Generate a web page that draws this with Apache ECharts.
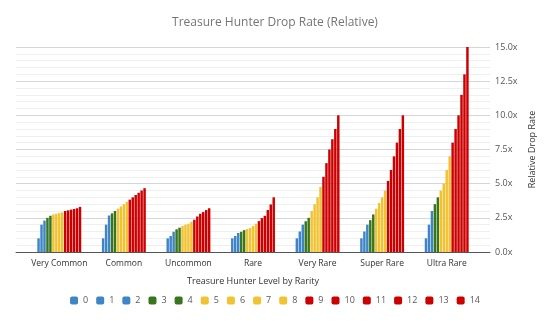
<!DOCTYPE html>
<html><head><meta charset="utf-8">
<script src="https://cdn.jsdelivr.net/npm/echarts@6/dist/echarts.min.js"></script>
<style>html,body{margin:0;padding:0;background:#fff}#c{width:550px;height:321px}</style>
</head><body><div id="c"></div>
<script>
const categories = ['Very Common','Common','Uncommon','Rare','Very Rare','Super Rare','Ultra Rare'];
const levels = ['0','1','2','3','4','5','6','7','8','9','10','11','12','13','14'];
const levelColors = ['#3d85c6','#3d85c6','#3d85c6','#38761d','#38761d','#f1c232','#f1c232','#f1c232','#f1c232','#cc0000','#cc0000','#cc0000','#cc0000','#cc0000','#cc0000'];
// values per rarity, indexed by level 0..14
const veryCommon = [1, 2, 2.3, 2.5, 2.65, 2.75, 2.8, 2.85, 2.9, 3.0, 3.05, 3.1, 3.15, 3.2, 3.3];
const common     = [1, 2, 2.67, 2.83, 3.0, 3.17, 3.33, 3.5, 3.67, 3.83, 4.0, 4.17, 4.33, 4.5, 4.67];
const uncommon   = [1, 1.17, 1.48, 1.66, 1.78, 1.9, 2.0, 2.07, 2.2, 2.36, 2.6, 2.8, 2.92, 3.07, 3.2];
const rare       = [1, 1.17, 1.39, 1.48, 1.6, 1.68, 1.75, 1.9, 2.07, 2.26, 2.48, 2.65, 3.07, 3.48, 4.0];
const veryRare   = [1, 1.5, 2, 2.25, 2.5, 3, 3.5, 4, 4.75, 5.5, 6.5, 7.5, 8.25, 9, 10];
const superRare  = [1, 1.5, 2, 2.33, 2.75, 3.17, 3.58, 4, 4.5, 5.2, 6, 7, 8, 9, 10];
const ultraRare  = [1, 2, 3, 3.5, 4, 4.5, 5, 6, 7, 8, 9, 10, 11.5, 13, 15];
const yMin = 0, yMax = 15, yInterval = 2.5;

const rarityRows = [veryCommon, common, uncommon, rare, veryRare, superRare, ultraRare];
const font = 'Open Sans, Arial, sans-serif';

const series = levels.map((lv, i) => ({
  name: lv, type: 'bar', xAxisIndex: 1, yAxisIndex: 1,
  data: rarityRows.map(r => r[i]),
  itemStyle: {color: levelColors[i]},
  barGap: '20%', barCategoryGap: '32%'
}));

const chart = echarts.init(document.getElementById('c'), null, {renderer: 'canvas'});
chart.setOption({
  animation: false,
  title: {text: 'Treasure Hunter Drop Rate (Relative)', left: 'center', top: 12,
    textStyle: {fontFamily: font, fontSize: 12, fontWeight: 'normal', color: '#757575'}},
  legend: {bottom: 11, left: 'center', icon: 'roundRect', itemWidth: 8, itemHeight: 8, itemGap: 8,
    textStyle: {fontFamily: font, fontSize: 9, color: '#595959'}, data: levels},
  grid: [
    {left: 16, right: 60, top: 47, bottom: 69},
    {left: 27, right: 71, top: 47, bottom: 69}
  ],
  xAxis: [
    {type: 'value', gridIndex: 0, min: 0, max: 1, axisLabel: {show: false}, axisTick: {show: false},
     splitLine: {show: false}, axisLine: {show: true, onZero: false, lineStyle: {color: '#555', width: 1}}},
    {type: 'category', gridIndex: 1, data: categories, axisLine: {show: false}, axisTick: {show: false},
     axisLabel: {fontFamily: font, fontSize: 8.5, color: '#333', margin: 7, interval: 0},
     name: 'Treasure Hunter Level by Rarity', nameLocation: 'middle', nameGap: 25,
     nameTextStyle: {fontFamily: font, fontSize: 9, color: '#333'}}
  ],
  yAxis: [
    {type: 'value', gridIndex: 0, position: 'right', min: yMin, max: yMax, interval: yInterval,
     axisLine: {show: false}, axisTick: {show: false},
     axisLabel: {fontFamily: font, fontSize: 9, color: '#555', margin: 5, formatter: v => v.toFixed(1) + 'x'},
     splitLine: {lineStyle: {color: '#d6d6d6'}},
     minorTick: {show: false, splitNumber: 5},
     minorSplitLine: {show: true, lineStyle: {color: '#efefef'}},
     name: 'Relative Drop Rate', nameLocation: 'middle', nameRotate: 90, nameGap: 35,
     nameTextStyle: {fontFamily: font, fontSize: 9, color: '#333'}},
    {type: 'value', gridIndex: 1, min: yMin, max: yMax, interval: yInterval, show: false}
  ],
  series: series
});
</script></body></html>
